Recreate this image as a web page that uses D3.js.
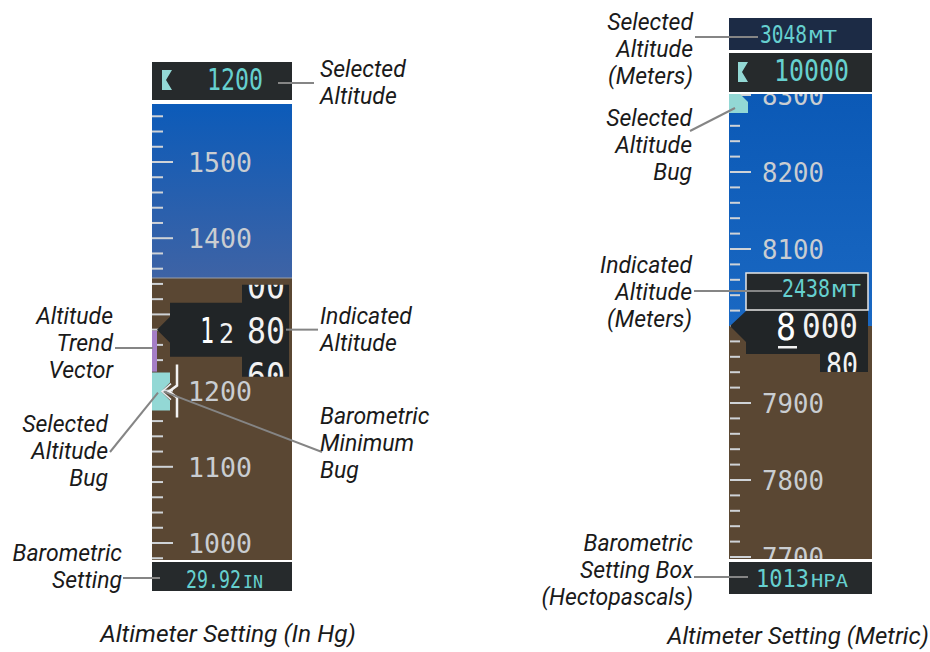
<!DOCTYPE html>
<html><head><meta charset="utf-8">
<script src="https://cdn.jsdelivr.net/npm/d3@7"></script>
<style>
body{margin:0;background:#fff;}
svg{display:block;}
.lbl{font-family:Roboto,"Open Sans",sans-serif;font-style:italic;font-size:23px;fill:#1a1a1a;}
.mono{font-family:"DejaVu Sans Mono",monospace;}
</style></head>
<body>
<script>
// ---------- data ----------
const leftTickLabels = [1000, 1100, 1200, 1300, 1400, 1500];
const rightTickLabels = [7700, 7800, 7900, 8000, 8100, 8200, 8300];
const leftIndicated = 1280;           // ft
const leftSelected = 1200;            // ft
const leftRollUp = "00", leftRollDown = "60";
const leftBaro = "29.92", leftBaroUnit = "IN";
const rightIndicated = 8000;          // ft
const rightSelected = 10000;          // ft
const rightSelectedMeters = 3048, rightIndicatedMeters = 2438;
const rightRollDown = "80";
const rightBaro = "1013", rightBaroUnit = "HPA";
const leftCallouts = [
  {lines:["Selected","Altitude"], anchor:"start"},
  {lines:["Altitude","Trend","Vector"], anchor:"end"},
  {lines:["Indicated","Altitude"], anchor:"start"},
  {lines:["Barometric","Minimum","Bug"], anchor:"start"},
  {lines:["Selected","Altitude","Bug"], anchor:"end"},
  {lines:["Barometric","Setting"], anchor:"end"}
];
const rightCallouts = [
  {lines:["Selected","Altitude","(Meters)"], anchor:"end"},
  {lines:["Selected","Altitude","Bug"], anchor:"end"},
  {lines:["Indicated","Altitude","(Meters)"], anchor:"end"},
  {lines:["Barometric","Setting Box","(Hectopascals)"], anchor:"end"}
];
const captions = ["Altimeter Setting (In Hg)", "Altimeter Setting (Metric)"];

// ---------- layout ----------
const W = 930, H = 652;
const C = {ground:"#5a4733", box:"#262a2c", navy:"#1c2b45",
  cyan:"#66d0cf", bug:"#93d8d5", tick:"#cfd3d7", label:"#c9cdd1", lead:"#858585", trend:"#a57ec6", white:"#f2f2f2"};
const ADV = 0.602; // DejaVu Sans Mono advance per em

const svg = d3.select("body").append("svg").attr("width", W).attr("height", H);
const defs = svg.append("defs");
const g1 = defs.append("linearGradient").attr("id","skyL").attr("x1",0).attr("x2",0).attr("y1",0).attr("y2",1);
g1.append("stop").attr("offset","0%").attr("stop-color","#0c5bb9");
g1.append("stop").attr("offset","100%").attr("stop-color","#3e63a5");
const g2 = defs.append("linearGradient").attr("id","skyR").attr("x1",0).attr("x2",0).attr("y1",0).attr("y2",1);
g2.append("stop").attr("offset","0%").attr("stop-color","#0b59b6");
g2.append("stop").attr("offset","100%").attr("stop-color","#1a68c2");

function clip(id, x, y, w, h){
  defs.append("clipPath").attr("id", id).append("rect").attr("x",x).attr("y",y).attr("width",w).attr("height",h);
}
// condensed monospace text: fits string s into width w starting at x
function mono(parent, x, y, s, size, w, fill){
  const sx = w / (s.length * ADV * size);
  return parent.append("text").attr("class","mono")
    .attr("transform",`translate(${x},${y}) scale(${sx},1)`)
    .attr("font-size",size).attr("fill",fill).text(s);
}
function flagIcon(parent, x, y, w, h){
  parent.append("path").attr("fill",C.bug)
    .attr("d",`M${x},${y}H${x+w}L${x+w*0.4},${y+h/2}L${x+w},${y+h}H${x}Z`);
}

// ================= LEFT TAPE =================
const L = {x:152, w:140, top:104, bot:560, horizon:278};
const yL = d3.scaleLinear().domain([1000,1500]).range([543,162]);
clip("clipL", L.x, L.top, L.w, L.bot-L.top);
const tapeL = svg.append("g").attr("clip-path","url(#clipL)");
tapeL.append("rect").attr("x",L.x).attr("y",L.top).attr("width",L.w).attr("height",L.horizon-L.top).attr("fill","url(#skyL)");
tapeL.append("rect").attr("x",L.x).attr("y",L.horizon).attr("width",L.w).attr("height",L.bot-L.horizon).attr("fill",C.ground);
tapeL.append("line").attr("x1",L.x).attr("x2",L.x+L.w).attr("y1",L.horizon).attr("y2",L.horizon).attr("stroke","#9aa0a8").attr("stroke-width",1);
const ticksL = d3.range(960, 1600, 20);
tapeL.selectAll(".tk").data(ticksL).join("line")
  .attr("x1",L.x).attr("x2",d=> d%100===0 ? L.x+21 : L.x+11)
  .attr("y1",d=>yL(d)).attr("y2",d=>yL(d)).attr("stroke",C.tick).attr("stroke-width",2);
// labels hidden under the indicated-altitude box are not drawn
leftTickLabels.filter(v=>Math.abs(v-leftIndicated)>=50)
  .forEach(v=> mono(tapeL, 188, yL(v)+10, String(v), 27, 64, C.label));

// selected altitude box
svg.append("rect").attr("x",L.x).attr("y",62).attr("width",L.w).attr("height",38).attr("fill",C.box);
flagIcon(svg, 162, 70, 10, 20);
mono(svg, 207, 90, String(leftSelected), 30, 56, C.cyan);

// trend vector
const yi = yL(leftIndicated);
svg.append("rect").attr("x",L.x).attr("y",yi+1).attr("width",5).attr("height",41).attr("fill",C.trend);

// selected altitude bug on tape
const ys = yL(leftSelected);
svg.append("path").attr("fill",C.bug)
  .attr("d",`M${L.x},${ys-18}H170V${ys-8}L161,${ys+1}L170,${ys+10}V${ys+20}H${L.x}Z`);
svg.append("path").attr("fill","none").attr("stroke","#e8ecef").attr("stroke-width",1.5)
  .attr("d",`M171,${ys-7}L162,${ys+1}L171,${ys+9}`);
// barometric minimum bug bracket
svg.append("path").attr("fill","none").attr("stroke","#f2f2f2").attr("stroke-width",2.5)
  .attr("d",`M177,${ys-26}V${ys-5}L169,${ys+1}L177,${ys+7}V${ys+27}`);

// indicated altitude box
svg.append("path").attr("fill","#212527")
  .attr("d",`M157,${yi}L170,${yi-13}V${yi-27}H242V${yi-45}H289V${yi+47}H242V${yi+27}H170V${yi+13}Z`);
const s1 = String(leftIndicated);
mono(svg, 200, yi+13, s1[0], 35, 14, "#ffffff");
mono(svg, 219, yi+13, s1[1], 26, 15, C.white);
mono(svg, 247, yi+13, s1.slice(2), 35, 38, C.white);
clip("winL", 242, yi-45, 47, 92);
const wl = svg.append("g").attr("clip-path","url(#winL)");
mono(wl, 247, yi-32, leftRollUp, 35, 38, C.white);
mono(wl, 247, yi+58, leftRollDown, 35, 38, C.white);

// baro box
svg.append("rect").attr("x",L.x).attr("y",562).attr("width",L.w).attr("height",29).attr("fill",C.box);
mono(svg, 186, 588, leftBaro, 24, 55, C.cyan);
mono(svg, 243, 588, leftBaroUnit, 18, 20, C.cyan);

// ================= RIGHT TAPE =================
const R = {x:729, w:143, top:94, bot:559, horizon:326};
const yR = d3.scaleLinear().domain([7800,8200]).range([480,172]);
clip("clipR", R.x, R.top, R.w, R.bot-R.top);
const tapeR = svg.append("g").attr("clip-path","url(#clipR)");
tapeR.append("rect").attr("x",R.x).attr("y",R.top).attr("width",R.w).attr("height",R.horizon-R.top).attr("fill","url(#skyR)");
tapeR.append("rect").attr("x",R.x).attr("y",R.horizon).attr("width",R.w).attr("height",R.bot-R.horizon).attr("fill",C.ground);
const ticksR = d3.range(7680, 8340, 20);
tapeR.selectAll(".tk").data(ticksR).join("line")
  .attr("x1",R.x+1).attr("x2",d=> d%100===0 ? R.x+22 : R.x+11)
  .attr("y1",d=>yR(d)).attr("y2",d=>yR(d)).attr("stroke",C.tick).attr("stroke-width",2);
rightTickLabels.filter(v=>Math.abs(v-rightIndicated)>=50)
  .forEach(v=> mono(tapeR, 762, yR(v)+10, String(v), 27, 62, C.label));
// selected altitude bug (top of tape)
tapeR.append("path").attr("fill",C.bug).attr("d",`M${R.x},${R.top}H740L748,102V113H${R.x}Z`);

// selected altitude meters box
svg.append("rect").attr("x",R.x).attr("y",18).attr("width",R.w).attr("height",32).attr("fill",C.navy);
mono(svg, 760, 43, String(rightSelectedMeters), 24, 47, C.cyan);
mono(svg, 809, 43, "MT", 18, 28, C.cyan);
// selected altitude box
svg.append("rect").attr("x",R.x).attr("y",53).attr("width",R.w).attr("height",39).attr("fill",C.box);
flagIcon(svg, 738, 62, 10, 20);
mono(svg, 774, 81, String(rightSelected), 31, 75, C.cyan);

// indicated altitude box
const yr = yR(rightIndicated);
svg.append("path").attr("fill","#212527")
  .attr("d",`M730,${yr}L746,${yr-15}V${yr-16}H868V${yr+46}H820V${yr+28}H746V${yr+16}Z`);
const s2 = String(rightIndicated);
mono(svg, 776, yr+14, s2[0], 38, 20, "#ffffff");
mono(svg, 802, yr+12, s2.slice(1), 34, 56, C.white);
svg.append("rect").attr("x",778).attr("y",yr+20).attr("width",19).attr("height",2.5).attr("fill",C.white);
clip("winR", 820, yr-16, 48, 62);
const wr = svg.append("g").attr("clip-path","url(#winR)");
mono(wr, 826, yr+51, rightRollDown, 34, 32, C.white);
// indicated meters box
svg.append("rect").attr("x",746).attr("y",273).attr("width",122).attr("height",37)
  .attr("fill","#24282a").attr("stroke","#e6e6e6").attr("stroke-width",1.5);
mono(svg, 782, 297, String(rightIndicatedMeters), 24, 48, C.cyan);
mono(svg, 832, 297, "MT", 18, 29, C.cyan);

// baro box
svg.append("rect").attr("x",R.x).attr("y",562).attr("width",R.w).attr("height",32).attr("fill",C.box);
mono(svg, 756, 587, rightBaro, 24, 53, C.cyan);
mono(svg, 811, 587, rightBaroUnit, 18, 37, C.cyan);

// ================= CALLOUTS =================
const leads = [
  [278,83,314,83],[286,yi,318,yi],[115,348,153,348],[164,ys+1,322,452],[110,452,158,ys+2],[123,578,160,578],
  [695,37,758,37],[690,131,735,108],[694,291,782,291],[694,577,748,577]
];
svg.selectAll(".lead").data(leads).join("line")
  .attr("x1",d=>d[0]).attr("y1",d=>d[1]).attr("x2",d=>d[2]).attr("y2",d=>d[3])
  .attr("stroke",C.lead).attr("stroke-width",2);

const leftPos = [[320,69],[113,316],[320,316],[320,416],[108,424],[122,553]];
const rightPos = [[693,22],[692,118],[692,265],[693,543]];
function callout(c, p){
  c.lines.forEach((s,i)=> svg.append("text").attr("class","lbl").attr("text-anchor",c.anchor)
    .attr("x",p[0]).attr("y",p[1]+8+i*27).text(s));
}
leftCallouts.forEach((c,i)=>callout(c,leftPos[i]));
rightCallouts.forEach((c,i)=>callout(c,rightPos[i]));

svg.append("text").attr("class","lbl").attr("text-anchor","middle").attr("x",228).attr("y",642).style("font-size","24.5px").text(captions[0]);
svg.append("text").attr("class","lbl").attr("text-anchor","middle").attr("x",798).attr("y",644).style("font-size","24px").text(captions[1]);
</script>
</body></html>
